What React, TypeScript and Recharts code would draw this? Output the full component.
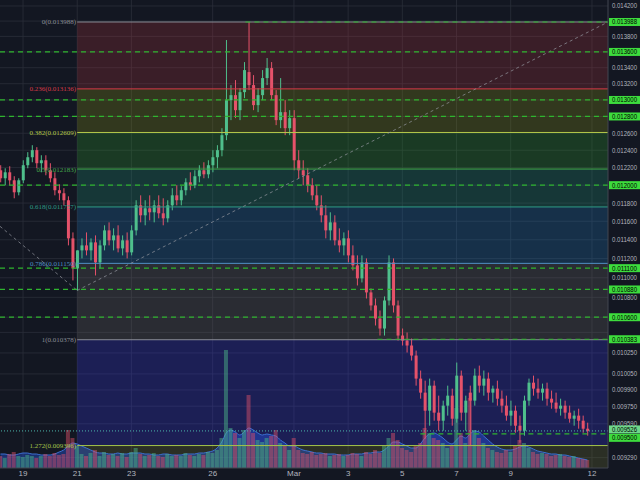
import { Area, Bar, CartesianGrid, ComposedChart, ReferenceArea, ReferenceLine, XAxis, YAxis } from "recharts";

const BG = "#131722";
const UP = "#4fbf8c";
const DOWN = "#e5526a";
const VOL_UP = "rgba(79,191,140,0.45)";
const VOL_DOWN = "rgba(229,82,106,0.45)";
const ALERT = "#3ddc3d";

// 4h candles, t = hours since Feb 18 00:00
const startHour = 4;
const stepHours = 4;
const X_MIN = 3.6;
const X_MAX = 542.2;

// [open, high, low, close] in millionths
const ohlc: [number, number, number, number][] = [
  [12169, 12227, 12032, 12078], [12078, 12192, 11999, 12146], [12146, 12215, 11999, 12055], [12055, 12101, 11853, 11920],
  [11920, 12078, 11886, 12055], [12055, 12284, 12022, 12227], [12227, 12378, 12192, 12319], [12319, 12459, 12261, 12401],
  [12401, 12436, 12192, 12250], [12250, 12342, 12146, 12284], [12284, 12342, 12112, 12169], [12169, 12250, 12032, 12078],
  [12078, 12146, 11886, 11943], [11943, 12010, 11831, 11909], [11909, 11966, 11775, 11831], [11831, 11875, 11340, 11415],
  [11415, 11479, 10973, 11097], [11097, 11287, 10870, 11287], [11287, 11415, 11202, 11340], [11340, 11479, 11234, 11287],
  [11287, 11415, 11181, 11372], [11372, 11447, 11024, 11160], [11160, 11394, 11097, 11340], [11340, 11556, 11287, 11501],
  [11501, 11588, 11340, 11394], [11394, 11523, 11287, 11447], [11447, 11556, 11266, 11308], [11308, 11447, 11234, 11394],
  [11394, 11479, 11202, 11266], [11266, 11556, 11234, 11501], [11501, 11831, 11447, 11775], [11775, 11886, 11588, 11665],
  [11665, 11831, 11556, 11742], [11742, 11886, 11610, 11698], [11698, 11831, 11588, 11775], [11775, 11886, 11632, 11687],
  [11687, 11853, 11556, 11632], [11632, 11831, 11588, 11775], [11775, 11966, 11720, 11886], [11886, 11999, 11775, 11831],
  [11831, 11988, 11775, 11943], [11943, 12078, 11886, 12032], [12032, 12146, 11943, 11999], [11999, 12169, 11966, 12101],
  [12101, 12227, 12032, 12169], [12169, 12261, 12078, 12123], [12123, 12284, 12078, 12227], [12227, 12401, 12146, 12319],
  [12319, 12459, 12192, 12401], [12401, 12660, 12330, 12577], [12577, 13753, 12518, 12998], [12998, 13183, 12756, 13059],
  [13059, 13245, 12780, 12876], [12876, 13146, 12756, 13096], [13096, 13471, 13022, 13370], [13345, 13988, 13121, 13183],
  [13183, 13307, 12876, 12937], [12937, 13146, 12852, 13059], [13059, 13370, 12998, 13270], [13270, 13522, 13183, 13395],
  [13395, 13471, 12998, 13059], [13059, 13121, 12696, 12756], [12756, 13270, 12660, 12852], [12852, 12998, 12577, 12660],
  [12660, 12876, 12577, 12780], [12780, 12876, 12169, 12284], [12284, 12401, 12078, 12169], [12169, 12284, 11999, 12112],
  [12112, 12192, 11920, 11999], [11999, 12078, 11831, 11886], [11886, 11999, 11720, 11775], [11775, 11886, 11588, 11665],
  [11665, 11775, 11415, 11501], [11501, 11698, 11394, 11588], [11588, 11665, 11340, 11394], [11394, 11523, 11266, 11340],
  [11340, 11479, 11234, 11415], [11415, 11501, 11160, 11234], [11234, 11340, 11076, 11129], [11129, 11234, 10921, 10994],
  [10994, 11234, 10952, 11160], [11160, 11202, 10788, 10850], [10850, 10891, 10667, 10718], [10718, 10788, 10518, 10587],
  [10587, 10667, 10419, 10488], [10488, 10809, 10419, 10768], [10768, 11234, 10718, 11160], [11160, 11202, 10647, 10718],
  [10718, 10768, 10370, 10419], [10419, 10488, 10322, 10370], [10370, 10449, 10254, 10322], [10322, 10390, 10177, 10225],
  [10225, 10273, 9940, 10006], [10006, 10082, 9819, 9875], [9875, 9987, 9457, 9709], [9709, 10006, 9573, 9940],
  [9940, 9987, 9618, 9691], [9691, 9847, 9528, 9618], [9618, 9801, 9528, 9755], [9755, 9940, 9664, 9847],
  [9847, 9912, 9573, 9636], [9636, 10158, 9600, 10034], [10034, 10082, 9618, 9691], [9691, 9847, 9528, 9801],
  [9875, 9940, 9395, 9801], [9801, 10101, 9755, 10034], [10034, 10129, 9875, 9940], [9940, 10082, 9847, 10006],
  [10006, 10063, 9801, 9875], [9875, 9940, 9783, 9912], [9912, 9987, 9755, 9819], [9819, 9894, 9691, 9755],
  [9755, 9847, 9618, 9664], [9664, 9801, 9573, 9709], [9709, 9755, 9510, 9573], [9573, 9664, 9421, 9528],
  [9528, 9847, 9484, 9801], [9801, 10006, 9755, 9968], [9968, 10034, 9847, 9912], [9912, 10006, 9819, 9875],
  [9875, 9959, 9801, 9912], [9912, 9968, 9755, 9819], [9819, 9894, 9727, 9783], [9783, 9875, 9691, 9727],
  [9727, 9819, 9664, 9755], [9755, 9801, 9636, 9691], [9691, 9755, 9600, 9636], [9636, 9709, 9573, 9664],
  [9664, 9727, 9546, 9618], [9618, 9664, 9510, 9546], [9546, 9600, 9484, 9526],
];

// volume per candle (k units)
const volume = [
  12, 10, 14, 16, 12, 11, 13, 12, 10, 12, 14, 12, 15, 13, 14, 38, 30, 22,
  14, 12, 15, 18, 12, 16, 13, 14, 12, 15, 11, 16, 20,
  14, 12, 13, 15, 12, 11, 14, 12, 13, 12, 15, 13, 12, 14, 13, 16, 15, 18,
  30, 118, 40, 35, 30, 38, 73, 35, 28, 26, 30, 32, 38, 25, 22, 18, 30,
  18, 15, 14, 16, 13, 14, 15, 12, 13, 14, 12, 13, 15, 14, 12, 16, 14, 18, 15,
  22, 30, 35, 28, 20, 18, 16, 22, 25, 40, 35, 30, 28, 25, 20, 22, 60, 35, 25, 70, 38, 30, 25,
  20, 18, 16, 15, 18, 16, 22, 28, 25, 20, 16, 14, 15, 14, 12, 13, 14, 12, 11, 12, 10, 9, 8,
];

const volumeAvg = [
  14, 14, 13, 13, 14, 15, 15, 14, 14, 13, 13, 13, 14,
  16, 18, 22, 25, 24, 22, 20, 18, 16, 15,
  15, 14, 14, 15, 14, 14, 15,
  15, 15, 14, 14, 13, 13, 14, 14, 13, 13, 13, 14, 14, 14, 15, 15,
  16, 17, 20, 26, 35, 38, 36, 33, 36, 40, 38, 35, 33, 34, 33, 32, 28, 25, 22, 22, 20, 18, 17, 16,
  15, 15, 14, 14, 14, 13, 13, 13, 14, 14, 14,
  15, 15, 16, 16, 18, 22, 26, 26, 24, 22, 20, 20, 24, 30, 34, 35, 33, 30, 26, 24, 28, 32, 30, 34, 37,
  36, 32, 28, 24, 21, 19, 18, 18, 19, 21, 22, 21, 19, 17, 16, 15, 14, 14, 13, 13, 12, 11, 10, 9, 8,
];

const dayTicks = [24, 72, 120, 192, 264, 312, 360, 408, 456, 528];
const dayLabels = ["19", "21", "23", "26", "Mar", "3", "5", "7", "9", "12"];

const priceTicks = [
  0.0142, 0.0138, 0.0134, 0.0132, 0.0126, 0.0124, 0.0122, 0.0118, 0.0116, 0.0114, 0.0112, 0.011, 0.0108,
  0.01025, 0.01005, 0.0099, 0.00975, 0.00959, 0.00929,
];
const gridPrices = [...priceTicks, 0.014, 0.0136, 0.013, 0.0128, 0.012, 0.0106, 0.01045];
const alertLabels = [0.013988, 0.0136, 0.013, 0.0128, 0.012, 0.0111, 0.01088, 0.0106, 0.010383, 0.0095];
const lastPrice = 0.009526;

const alertLines = [0.0136, 0.013, 0.0128, 0.012, 0.0111, 0.01088, 0.0106];
const partialAlerts = [
  { price: 0.013988, from: 221 },
  { price: 0.010383, from: 338 },
  { price: 0.0095, from: 376 },
];

const fibStart = 72;
const fibRatios = ["0", "0.236", "0.382", "0.5", "0.618", "0.786", "1", "1.272"];
const fibPrices = [0.013988, 0.013136, 0.012609, 0.012183, 0.011757, 0.01115, 0.010378, 0.009396];
const fibColors = ["#8a8d96", "#d63a47", "#b4c94a", "#43a84c", "#2f9c86", "#4f8fc4", "#8a8d96", "#a3c44a"];
const bandColors = ["#af333a", "#8f9b12", "#2fa32a", "#1f9776", "#1f7bbe", "#6f6b66", "#3737ee", "#73772e"];

const Y_DOMAIN: [number, number] = [0.0092, 0.01428];

const rows = ohlc.map(([o, h, l, c], i) => ({
  t: startHour + i * stepHours,
  open: o / 1e6,
  high: h / 1e6,
  low: l / 1e6,
  close: c / 1e6,
  range: [l / 1e6, h / 1e6],
  vol: volume[i],
  volAvg: volumeAvg[i],
}));

function Candle(props: any) {
  const { x, y, width, height, payload } = props;
  if (!payload || height == null) return null;
  const { open, close, high, low } = payload;
  const color = close >= open ? UP : DOWN;
  const lh = Math.log(high);
  const span = lh - Math.log(low) || 1;
  const py = (v: number) => y + (height * (lh - Math.log(v))) / span;
  const top = py(Math.max(open, close));
  const bot = py(Math.min(open, close));
  const cx = x + width / 2;
  return (
    <g>
      <line x1={cx} x2={cx} y1={y} y2={y + height} stroke={color} strokeWidth={1} />
      <rect x={x} y={top} width={width} height={Math.max(1, bot - top)} fill={color} />
    </g>
  );
}

function VolumeBar(props: any) {
  const { x, y, width, height, payload } = props;
  if (!payload || !height) return null;
  return <rect x={x} y={y} width={width} height={height} fill={payload.close >= payload.open ? VOL_UP : VOL_DOWN} />;
}

function PriceTick(props: any) {
  const { x, payload } = props;
  const v = payload.value as number;
  // the two bottom labels push apart so they do not cover each other
  const y = props.y + (v === 0.0095 ? 4 : v === lastPrice ? -1.5 : 0);
  const label = v.toFixed(6);
  if (alertLabels.includes(v) || v === lastPrice) {
    return (
      <g>
        <rect x={x - 3} y={y - 4} width={31} height={8} fill={v === lastPrice ? "#6fd88a" : ALERT} />
        <text x={x} y={y} dy={2.5} fontSize={7} textLength={25} lengthAdjust="spacingAndGlyphs" fill="#000">{label}</text>
      </g>
    );
  }
  return (
    <text x={x} y={y} dy={2.5} fontSize={7} textLength={25} lengthAdjust="spacingAndGlyphs" fill="#b2b5be">{label}</text>
  );
}

function DayTick(props: any) {
  const { x, y, payload } = props;
  const idx = dayTicks.indexOf(payload.value);
  return (
    <text x={x} y={y} dy={6} textAnchor="middle" fontSize={8} fill="#b2b5be">{dayLabels[idx]}</text>
  );
}

export default function App() {
  return (
    <div style={{ position: "absolute", left: 0, top: 0, width: 640, height: 480, background: BG, fontFamily: "'Liberation Sans', Arial, sans-serif" }}>
      <ComposedChart width={640} height={480} data={rows} margin={{ top: 0, right: 0, bottom: 0, left: 0 }}>
        <CartesianGrid stroke="#2a2e39" strokeOpacity={0.8} horizontalValues={gridPrices} verticalValues={dayTicks} />
        {fibPrices.map((p, i) =>
          i === 0 ? null : (
            <ReferenceArea key={`b${i}`} x1={fibStart} x2={X_MAX} y1={fibPrices[i - 1]} y2={p} fill={bandColors[i - 1]} fillOpacity={0.25} stroke="none" ifOverflow="hidden" />
          )
        )}
        <ReferenceArea x1={fibStart} x2={X_MAX} y1={fibPrices[7]} y2={Y_DOMAIN[0]} fill={bandColors[7]} fillOpacity={0.25} stroke="none" ifOverflow="hidden" />
        {fibPrices.map((p, i) => (
          <ReferenceLine
            key={`f${i}`}
            segment={[{ x: fibStart, y: p }, { x: X_MAX, y: p }]}
            stroke={fibColors[i]}
            strokeWidth={1}
            ifOverflow="hidden"
            label={{ value: `${fibRatios[i]}(${p.toFixed(6)})`, position: "left", offset: 1, fill: fibColors[i], fontSize: 7, fontFamily: "'Liberation Serif', serif" }}
          />
        ))}
        <ReferenceLine segment={[{ x: X_MIN, y: 0.011545 }, { x: fibStart, y: 0.01087 }]} stroke="#9598a1" strokeOpacity={0.7} strokeDasharray="3 3" ifOverflow="hidden" />
        <ReferenceLine segment={[{ x: fibStart, y: 0.01087 }, { x: X_MAX, y: 0.013988 }]} stroke="#9598a1" strokeOpacity={0.7} strokeDasharray="3 3" ifOverflow="hidden" />
        {alertLines.map((p) => (
          <ReferenceLine key={`a${p}`} y={p} stroke="#2fb52f" strokeWidth={1.2} strokeDasharray="5 4" ifOverflow="hidden" />
        ))}
        {partialAlerts.map((a) => (
          <ReferenceLine key={`p${a.price}`} segment={[{ x: a.from, y: a.price }, { x: X_MAX, y: a.price }]} stroke="#2fb52f" strokeWidth={1.2} strokeDasharray="5 4" ifOverflow="hidden" />
        ))}
        <ReferenceLine y={lastPrice} stroke="#4db6ac" strokeDasharray="1 2" ifOverflow="hidden" />
        <Area xAxisId="vx" yAxisId="vol" type="monotone" dataKey="volAvg" stroke="#3c6fd0" strokeWidth={1} fill="#2962ff" fillOpacity={0.35} dot={false} activeDot={false} isAnimationActive={false} />
        <Bar xAxisId="vx" yAxisId="vol" dataKey="vol" barSize={4} shape={VolumeBar} isAnimationActive={false} />
        <Bar dataKey="range" barSize={3} shape={Candle} isAnimationActive={false} />
        <XAxis
          dataKey="t"
          type="number"
          domain={[X_MIN, X_MAX]}
          allowDataOverflow
          ticks={dayTicks}
          interval={0}
          height={12}
          tickSize={0}
          tickMargin={2}
          tickLine={false}
          axisLine={{ stroke: "#434651" }}
          tick={DayTick}
        />
        <XAxis xAxisId="vx" dataKey="t" type="number" domain={[X_MIN, X_MAX]} allowDataOverflow hide />
        <YAxis
          orientation="right"
          type="number"
          scale="log"
          domain={Y_DOMAIN}
          allowDataOverflow
          ticks={[...priceTicks, lastPrice, ...alertLabels]}
          interval={0}
          width={32}
          tickSize={0}
          tickMargin={4}
          tickLine={false}
          axisLine={{ stroke: "#434651" }}
          tick={PriceTick}
        />
        <YAxis yAxisId="vol" type="number" domain={[0, 468]} allowDataOverflow hide />
      </ComposedChart>
    </div>
  );
}
